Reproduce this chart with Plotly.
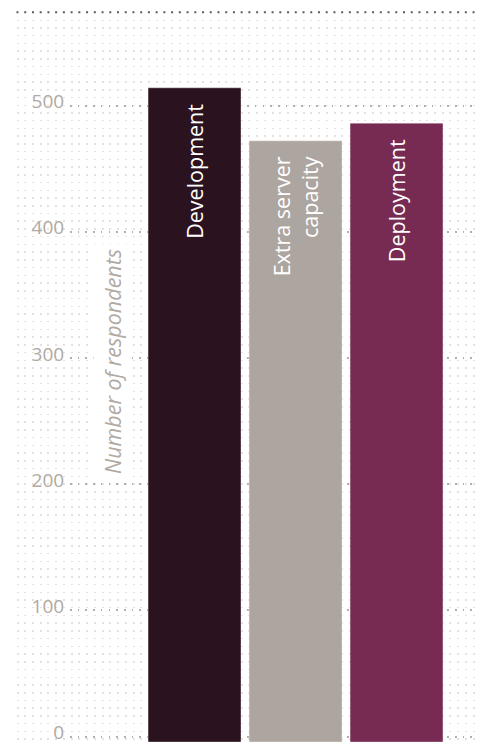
import plotly.graph_objects as go

# ---- data ----
categories = ["Development", "Extra server capacity", "Deployment"]
bar_labels = ["Development", "Extra server<br>capacity", "Deployment"]
values = [514, 472, 486]
tick_values = [0, 100, 200, 300, 400, 500]
tick_labels = ["0", "100", "200", "300", "400", "500"]
y_title = "Number of respondents"

# ---- style ----
W, H = 479, 742
colors = ["#2b121f", "#ada59f", "#772a52"]
TICK_COLOR = "#b1a9a2"
GRID_COLOR = "#b5ada6"
DOT_COLOR = "#e4e1de"
FONT = "Open Sans"

Y_MIN, Y_MAX = -4.36, 583.6
X_MIN, X_MAX = -1.233, 2.777

fig = go.Figure()

# background dot pattern subplot (drawn first / beneath)
fig.add_trace(go.Scatter(x=[], y=[], xaxis="x", yaxis="y", showlegend=False, hoverinfo="skip"))

fig.add_trace(go.Bar(
    x=categories,
    y=[v - Y_MIN for v in values],
    base=[Y_MIN] * len(values),
    width=0.92,
    marker=dict(color=colors, line=dict(color="rgba(255,255,255,0.35)", width=1)),
    xaxis="x2", yaxis="y2",
    showlegend=False, hoverinfo="skip",
))

for cat, lab, v in zip(categories, bar_labels, values):
    fig.add_annotation(
        x=cat, y=v, xref="x2", yref="y2", text=lab, showarrow=False,
        textangle=-90, xanchor="center", yanchor="top", yshift=-14, align="right",
        font=dict(family=FONT, size=21.5, color="white"),
    )

fig.add_annotation(
    x=112.5 / W, y=1 - 361.5 / H, xref="paper", yref="paper", text=y_title,
    showarrow=False, textangle=-90, xanchor="center", yanchor="middle",
    bgcolor="white", borderpad=4,
    font=dict(family=FONT, size=21.5, color=TICK_COLOR, style="italic"),
)

# top dotted rule
fig.add_shape(type="line", xref="paper", yref="paper",
              x0=16.5 / W, x1=476 / W, y0=1 - 12.3 / H, y1=1 - 12.3 / H,
              line=dict(color="#5e5a57", width=2, dash="2px,5.73px"))

fig.update_layout(
    width=W, height=H,
    margin=dict(l=0, r=0, t=0, b=0, autoexpand=False),
    paper_bgcolor="white", plot_bgcolor="rgba(0,0,0,0)",
    font=dict(family=FONT),
    xaxis=dict(domain=[16 / W, 476 / W], range=[-0.2, 59.3], showgrid=True, dtick=1, tick0=0,
               gridcolor=DOT_COLOR, gridwidth=1.5, griddash="1.5px,6.23px", automargin=False,
               zeroline=False, showticklabels=False, showline=False, fixedrange=True),
    yaxis=dict(domain=[0, 1 - 19.5 / H], range=[0, 1], showgrid=False, zeroline=False,
               automargin=False,
               showticklabels=False, showline=False, fixedrange=True),
    xaxis2=dict(domain=[70 / W, 475 / W], range=[X_MIN, X_MAX], anchor="y2",
                showgrid=False, zeroline=False, showticklabels=False, showline=False,
                automargin=False, fixedrange=True),
    yaxis2=dict(domain=[0, 1], range=[Y_MIN, Y_MAX], anchor="x2",
                tickvals=tick_values, ticktext=tick_labels,
                ticks="outside", ticklen=1, tickcolor="rgba(0,0,0,0)",
                ticklabeloverflow="allow", ticklabelshift=-4, automargin=False,
                tickfont=dict(family=FONT, size=19, color=TICK_COLOR),
                showgrid=True, gridcolor=GRID_COLOR, gridwidth=1.6, griddash="1.6px,6.1px",
                zeroline=False, showline=False, fixedrange=True),
)

fig.write_html("out.html")
